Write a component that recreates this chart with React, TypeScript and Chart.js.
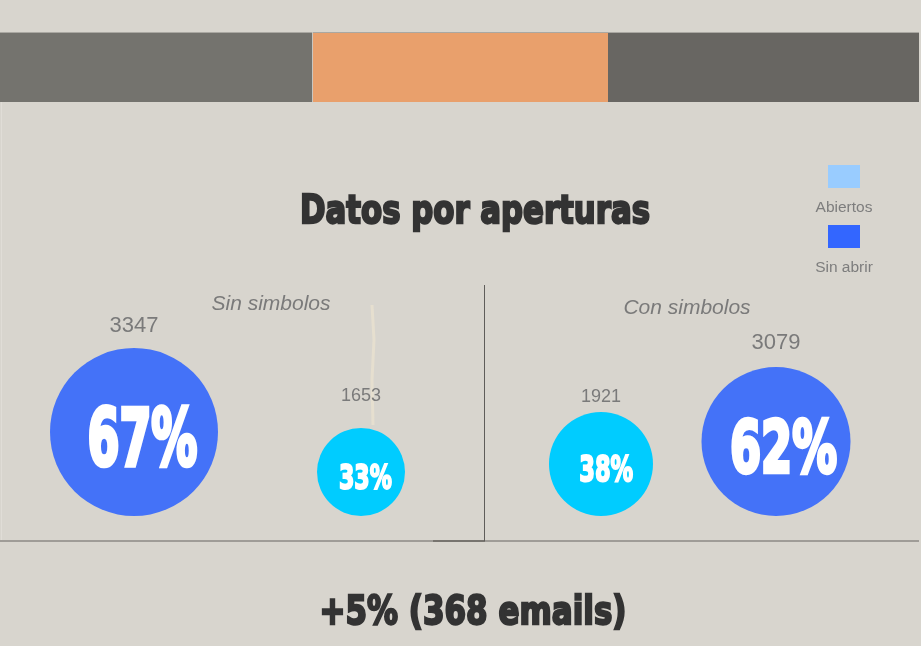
import { useEffect, useRef } from "react";
import { Chart, registerables } from "chart.js";
Chart.register(...registerables);

// ---------- data ----------
const GROUPS = ["Sin simbolos", "Con simbolos"];
const SERIES = ["Abiertos", "Sin abrir"];
const ABIERTOS = [1653, 1921];
const SIN_ABRIR = [3347, 3079];
const TITLE = "Datos por aperturas";
const FOOTNOTE = "+5% (368 emails)";

// ---------- layout / style ----------
const W = 921;
const H = 646;
const BASE_Y = 516;
const BG = "#d8d5ce";
const X_ABIERTOS = [361, 601];
const X_SIN_ABRIR = [134, 776];
const R_ABIERTOS = [44, 52];
const R_SIN_ABRIR = [84, 74.5];
const COLOR_ABIERTOS = "#00ccff";
const COLOR_SIN_ABRIR = "#4472f8";
const LEGEND_ABIERTOS = "#99ccff";
const LEGEND_SIN_ABRIR = "#3366ff";
// per point style: [group0, group1]
const PCT_CAP_ABIERTOS = [25, 26];
const PCT_W_ABIERTOS = [53, 54];
const PCT_CAP_SIN_ABRIR = [57, 52];
const PCT_W_SIN_ABRIR = [110, 107];
const CNT_FONT_ABIERTOS = [18, 18];
const CNT_FONT_SIN_ABRIR = [22, 22];
const CNT_GAP_ABIERTOS = [27, 10];
const CNT_GAP_SIN_ABRIR = [16, 18];
const GROUP_LABEL_POS = [
  [271, 310],
  [687, 314],
];

function heavy(
  ctx: CanvasRenderingContext2D,
  text: string,
  cx: number,
  baseline: number,
  cap: number,
  width: number,
  color: string
) {
  const size = cap / 0.729;
  ctx.save();
  ctx.font = `bold ${size}px "DejaVu Sans"`;
  const w = ctx.measureText(text).width;
  ctx.translate(cx, baseline);
  ctx.scale(width / w, 1);
  ctx.textAlign = "center";
  ctx.textBaseline = "alphabetic";
  ctx.fillStyle = color;
  ctx.strokeStyle = color;
  ctx.lineWidth = size * 0.06;
  ctx.lineJoin = "miter";
  ctx.fillText(text, 0, 0);
  ctx.strokeText(text, 0, 0);
  ctx.restore();
}

const infographic = {
  id: "infographic",
  beforeDraw(chart: any) {
    const ctx: CanvasRenderingContext2D = chart.ctx;
    ctx.save();
    ctx.fillStyle = BG;
    ctx.fillRect(0, 0, W, H);
    // top bar
    ctx.fillStyle = "#74736e";
    ctx.fillRect(0, 32, 312, 70);
    ctx.fillStyle = "#e9a06c";
    ctx.fillRect(313, 32, 295, 70);
    ctx.fillStyle = "#686662";
    ctx.fillRect(608, 32, 311, 70);
    ctx.fillStyle = "#aaa8a2";
    ctx.fillRect(0, 32, 919, 1);
    ctx.fillStyle = "#c9c6bf";
    ctx.fillRect(312, 32, 1, 70);
    // left faint edge
    ctx.fillStyle = "#e0ddd7";
    ctx.fillRect(1, 102, 1, 439);
    // horizontal rule
    ctx.fillStyle = "#9f9c97";
    ctx.fillRect(0, 540, 919, 2);
    ctx.fillStyle = "#77746f";
    ctx.fillRect(433, 540, 52, 2);
    // vertical divider
    ctx.fillStyle = "#5f5d5a";
    ctx.fillRect(484, 285, 1, 256);
    // faint beige streak
    ctx.strokeStyle = "#e6dfcf";
    ctx.lineWidth = 3;
    ctx.beginPath();
    ctx.moveTo(372, 305);
    ctx.lineTo(374, 340);
    ctx.lineTo(372, 380);
    ctx.lineTo(373, 425);
    ctx.stroke();

    // title & footnote
    heavy(ctx, TITLE, 475, 223, 28, 350, "#333333");
    heavy(ctx, FOOTNOTE, 473, 624, 28, 307, "#333333");

    // group labels
    ctx.fillStyle = "#7a7a7a";
    ctx.font = 'italic 21px "Liberation Sans"';
    ctx.textAlign = "center";
    ctx.textBaseline = "alphabetic";
    GROUPS.forEach((g, i) => {
      ctx.fillText(g, GROUP_LABEL_POS[i][0], GROUP_LABEL_POS[i][1]);
    });

    // legend
    const legendColors = [LEGEND_ABIERTOS, LEGEND_SIN_ABRIR];
    SERIES.forEach((s, i) => {
      const top = 165 + i * 60;
      ctx.fillStyle = legendColors[i];
      ctx.fillRect(828, top, 32, 23);
      ctx.fillStyle = "#7d7d7d";
      ctx.font = '15.5px "Liberation Sans"';
      ctx.textAlign = "center";
      ctx.fillText(s, 844, top + 47);
    });
    ctx.restore();
  },
  afterDatasetsDraw(chart: any) {
    const ctx: CanvasRenderingContext2D = chart.ctx;
    const series = [
      { counts: ABIERTOS, cap: PCT_CAP_ABIERTOS, pw: PCT_W_ABIERTOS, cf: CNT_FONT_ABIERTOS, gap: CNT_GAP_ABIERTOS },
      { counts: SIN_ABRIR, cap: PCT_CAP_SIN_ABRIR, pw: PCT_W_SIN_ABRIR, cf: CNT_FONT_SIN_ABRIR, gap: CNT_GAP_SIN_ABRIR },
    ];
    series.forEach((s, d) => {
      const meta = chart.getDatasetMeta(d);
      meta.data.forEach((el: any, g: number) => {
        const r = el.options.radius;
        const total = ABIERTOS[g] + SIN_ABRIR[g];
        const pct = Math.round((s.counts[g] / total) * 100);
        heavy(ctx, pct + "%", el.x + r * 0.1, el.y + 4 + s.cap[g] / 2, s.cap[g], s.pw[g], "#ffffff");
        ctx.save();
        ctx.fillStyle = "#7a7a7a";
        ctx.font = `${s.cf[g]}px "Liberation Sans"`;
        ctx.textAlign = "center";
        ctx.textBaseline = "alphabetic";
        ctx.fillText(String(s.counts[g]), el.x, el.y - r - s.gap[g]);
        ctx.restore();
      });
    });
  },
};

export default function App() {
  const ref = useRef<HTMLCanvasElement | null>(null);
  useEffect(() => {
    document.body.style.margin = "0";
    document.body.style.background = BG;
    if (!ref.current) return;
    const chart = new Chart(ref.current, {
      type: "bubble",
      data: {
        datasets: [
          {
            label: SERIES[0],
            data: ABIERTOS.map((c, g) => ({ x: X_ABIERTOS[g], y: R_ABIERTOS[g], r: R_ABIERTOS[g], count: c })),
            backgroundColor: COLOR_ABIERTOS,
            borderWidth: 0,
          },
          {
            label: SERIES[1],
            data: SIN_ABRIR.map((c, g) => ({ x: X_SIN_ABRIR[g], y: R_SIN_ABRIR[g], r: R_SIN_ABRIR[g], count: c })),
            backgroundColor: COLOR_SIN_ABRIR,
            borderWidth: 0,
          },
        ],
      },
      options: {
        responsive: false,
        animation: false,
        devicePixelRatio: 1,
        events: [],
        layout: { padding: 0, autoPadding: false },
        plugins: { legend: { display: false }, tooltip: { enabled: false } },
        scales: {
          x: { type: "linear", display: false, min: 0, max: W },
          y: { type: "linear", display: false, min: BASE_Y - H, max: BASE_Y },
        },
      } as any,
      plugins: [infographic],
    });
    return () => chart.destroy();
  }, []);
  return <canvas ref={ref} width={W} height={H} style={{ display: "block" }} />;
}
